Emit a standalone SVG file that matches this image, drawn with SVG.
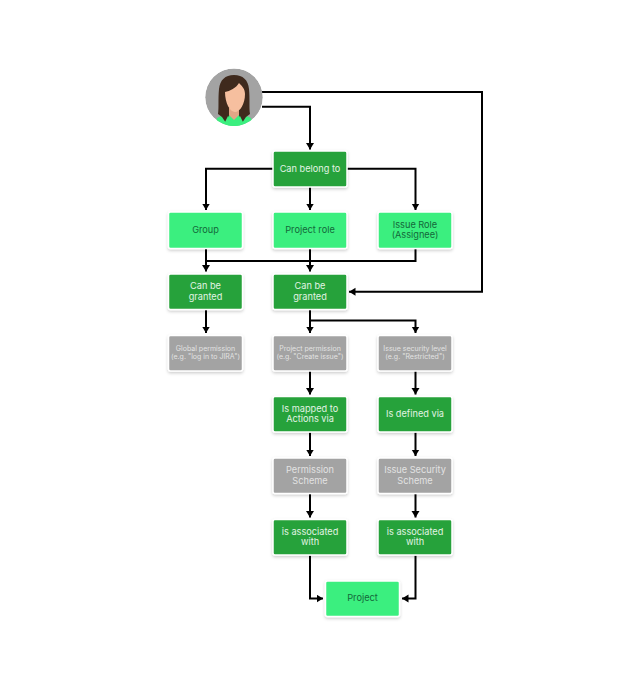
<svg xmlns="http://www.w3.org/2000/svg" width="643" height="693" viewBox="0 0 643 693">
<style>
text{font-family:"Inter","Open Sans","Liberation Sans",sans-serif;font-size:9.200px;text-anchor:middle}
.b{stroke:#fff;stroke-width:1.5;filter:url(#s)}
.d{fill:#27a23a}.l{fill:#3bef7f}.g{fill:#a3a3a3}
.dt{fill:#e2f4e4}.lt{fill:#14683a}.gt{fill:#e2e2e2}
.sm{font-size:7px}
.c{fill:none;stroke:#000;stroke-width:2;marker-end:url(#a)}
.n{fill:none;stroke:#000;stroke-width:2}
</style>
<defs>
<filter id="s" x="-20%" y="-20%" width="140%" height="150%"><feDropShadow dx="0" dy="1.5" stdDeviation="1.5" flood-color="#000" flood-opacity="0.2"/></filter>
<marker id="a" markerUnits="userSpaceOnUse" markerWidth="9" markerHeight="9" refX="6.500" refY="4" orient="auto"><path d="M0,0L6.500,4L0,8z" fill="#000"/></marker>
<clipPath id="cc"><circle cx="234" cy="97.2" r="28.8"/></clipPath>
</defs>
<rect width="643" height="693" fill="#fff"/>
<g id="connectors">
<path class="c" d="M262,92H482V291.700H349"/>
<path class="c" d="M262,106.700H310V149.500"/>
<path class="c" d="M273,168.700H206V210"/>
<path class="c" d="M310,187V210"/>
<path class="c" d="M347,168.700H415.500V210"/>
<path class="c" d="M206,249V271.500"/>
<path class="c" d="M310,249V271.500"/>
<path class="n" d="M206,261H415.500V249"/>
<path class="c" d="M206,310V333"/>
<path class="c" d="M310,310V333"/>
<path class="c" d="M310,320.500H415.500V333"/>
<path class="c" d="M310,371V394.500"/>
<path class="c" d="M415.500,371V394.500"/>
<path class="c" d="M310,432.500V456"/>
<path class="c" d="M415.500,432.500V456"/>
<path class="c" d="M310,494V517.500"/>
<path class="c" d="M415.500,494V517.500"/>
<path class="c" d="M310,555.500V598.500H323"/>
<path class="c" d="M415.500,555.500V598.500H402"/>
</g>
<g id="avatar" clip-path="url(#cc)">
<circle cx="234" cy="97.2" r="28.800" fill="#a3a3a3"/>
<path d="M215,127L217,118L228,113H240L251,118L254,127z" fill="#3bef7f"/>
<path d="M234,75C225,75 220,80 219,89C218,99 219,108 218,114L222,117L226,123L230,113H238L242,123L246,117L250,114C249,108 250,99 249,89C248,80 243,75 234,75z" fill="#3f2a1d"/>
<path d="M229,108H239V115L234,120L229,115z" fill="#e3a686"/>
<path d="M228,116L234,126L240,116L244,124L234,127L224,124z" fill="#3bef7f"/>
<path d="M225,92C230,91 236,88 239,83C242,86 245,89 245,94C245,104 240,112 235,112C230,112 225,103 225,92z" fill="#f6bf9f"/>
</g>
<g id="can-belong"><rect class="b d" x="273" y="151" width="74" height="36" rx="2"/><text class="dt" x="310" y="171.500">Can belong to</text></g>
<g id="group"><rect class="b l" x="168.500" y="212" width="74" height="36.500" rx="2"/><text class="lt" x="205.500" y="232.500">Group</text></g>
<g id="project-role"><rect class="b l" x="273" y="212" width="74" height="36.500" rx="2"/><text class="lt" x="310" y="232.500">Project role</text></g>
<g id="issue-role"><rect class="b l" x="378" y="212" width="74" height="36.500" rx="2"/><text class="lt" x="415" y="227.500">Issue Role</text><text class="lt" x="415" y="238">(Assignee)</text></g>
<g id="granted-1"><rect class="b d" x="168.500" y="274" width="74" height="35.500" rx="2"/><text class="dt" x="205.500" y="289">Can be</text><text class="dt" x="205.500" y="299.500">granted</text></g>
<g id="granted-2"><rect class="b d" x="273" y="274" width="74" height="35.500" rx="2"/><text class="dt" x="310" y="289">Can be</text><text class="dt" x="310" y="299.500">granted</text></g>
<g id="global-permission"><rect class="b g" x="168.500" y="335.500" width="74" height="35.500" rx="2"/><text class="gt sm" x="205.500" y="351">Global permission</text><text class="gt sm" x="205.500" y="358.500">(e.g. "log in to JIRA")</text></g>
<g id="project-permission"><rect class="b g" x="273" y="335.500" width="74" height="35.500" rx="2"/><text class="gt sm" x="310" y="351">Project permission</text><text class="gt sm" x="310" y="358.500">(e.g. "Create issue")</text></g>
<g id="issue-security-level"><rect class="b g" x="378" y="335.500" width="74" height="35.500" rx="2"/><text class="gt sm" x="415" y="351">Issue security level</text><text class="gt sm" x="415" y="358.500">(e.g. "Restricted")</text></g>
<g id="mapped"><rect class="b d" x="273" y="396.500" width="74" height="35.500" rx="2"/><text class="dt" x="310" y="411.500">Is mapped to</text><text class="dt" x="310" y="422">Actions via</text></g>
<g id="defined"><rect class="b d" x="378" y="396.500" width="74" height="35.500" rx="2"/><text class="dt" x="415" y="416.500">Is defined via</text></g>
<g id="permission-scheme"><rect class="b g" x="273" y="458" width="74" height="35.500" rx="2"/><text class="gt" x="310" y="473">Permission</text><text class="gt" x="310" y="483.500">Scheme</text></g>
<g id="issue-security-scheme"><rect class="b g" x="378" y="458" width="74" height="35.500" rx="2"/><text class="gt" x="415" y="473">Issue Security</text><text class="gt" x="415" y="483.500">Scheme</text></g>
<g id="associated-1"><rect class="b d" x="273" y="519.500" width="74" height="35.500" rx="2"/><text class="dt" x="310" y="534.500">is associated</text><text class="dt" x="310" y="545">with</text></g>
<g id="associated-2"><rect class="b d" x="378" y="519.500" width="74" height="35.500" rx="2"/><text class="dt" x="415" y="534.500">is associated</text><text class="dt" x="415" y="545">with</text></g>
<g id="project"><rect class="b l" x="325.500" y="581" width="74" height="35.500" rx="2"/><text class="lt" x="362.500" y="600.500">Project</text></g>
</svg>
